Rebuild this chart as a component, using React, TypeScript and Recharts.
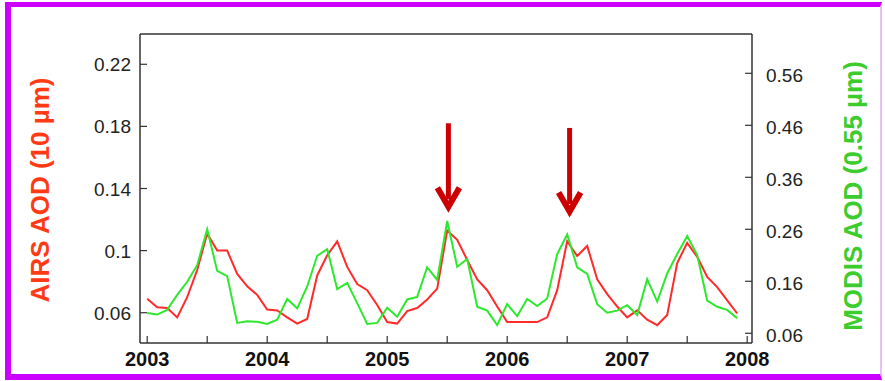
import React from 'react'
import { LineChart, Line, XAxis, YAxis, ReferenceLine, ReferenceDot } from 'recharts'

// monthly means, Jan 2003 .. Dec 2007
const airs = [
  0.069, 0.0635, 0.063, 0.057, 0.07, 0.0875, 0.111, 0.1, 0.1, 0.085, 0.077, 0.0715,
  0.062, 0.0615, 0.057, 0.053, 0.056, 0.084, 0.097, 0.106, 0.0895, 0.0785, 0.0745, 0.065,
  0.054, 0.053, 0.061, 0.063, 0.0685, 0.0755, 0.113, 0.107, 0.094, 0.0815, 0.0745, 0.064,
  0.054, 0.054, 0.054, 0.054, 0.057, 0.0745, 0.106, 0.0965, 0.103, 0.0815, 0.072, 0.064,
  0.057, 0.0615, 0.0555, 0.052, 0.0585, 0.092, 0.105, 0.096, 0.083, 0.0765, 0.068, 0.0595,
]
const modis = [
  0.099, 0.096, 0.105, 0.134, 0.159, 0.191, 0.26, 0.18, 0.17, 0.08, 0.083, 0.082,
  0.078, 0.086, 0.126, 0.108, 0.15, 0.209, 0.222, 0.145, 0.157, 0.118, 0.078, 0.08,
  0.109, 0.092, 0.125, 0.13, 0.187, 0.1625, 0.276, 0.188, 0.203, 0.111, 0.1035, 0.076,
  0.116, 0.093, 0.126, 0.1125, 0.127, 0.2125, 0.25, 0.187, 0.174, 0.116, 0.0995, 0.1035,
  0.114, 0.095, 0.164, 0.121, 0.175, 0.2125, 0.247, 0.2105, 0.123, 0.111, 0.105, 0.089,
]
const startYear = 2003

const xTicks = [2003, 2003.5, 2004, 2004.5, 2005, 2005.5, 2006, 2006.5, 2007, 2007.5, 2008]
const airsTicks = [0.06, 0.1, 0.14, 0.18, 0.22]
const modisTicks = [0.06, 0.16, 0.26, 0.36, 0.46, 0.56]

const arrowYears = [2005.51, 2006.52]
const arrowTop = [0.182, 0.179]
const arrowTip = [0.125, 0.122]

const xDomain = [2002.94, 2008.04]
const airsDomain = [0.0405, 0.2395]
const modisDomain = [0.0413, 0.6356]

const data = airs.map((v, i) => ({ t: startYear + i / 12, airs: v, modis: modis[i] }))

const AXIS = '#333'
const FONT = '"Liberation Sans", Arial, sans-serif'

function YearTick(props: any) {
  const { x, y, payload } = props
  const v = payload.value
  return (
    <g>
      <line x1={x} x2={x} y1={y} y2={y - 7} stroke={AXIS} strokeWidth={1.2} />
      {Number.isInteger(v) && (
        <text x={x} y={y + 23} textAnchor="middle" fontSize={20} fontWeight="bold" fill="#111" fontFamily={FONT}>
          {v}
        </text>
      )}
    </g>
  )
}

function LeftTick(props: any) {
  const { x, y, payload } = props
  return (
    <g>
      <line x1={x} x2={x + 7} y1={y} y2={y} stroke={AXIS} strokeWidth={1.2} />
      <text x={x - 9} y={y + 7} textAnchor="end" fontSize={19} fill="#222" fontFamily={FONT}>
        {String(payload.value)}
      </text>
    </g>
  )
}

function RightTick(props: any) {
  const { x, y, payload } = props
  return (
    <g>
      <line x1={x} x2={x - 7} y1={y} y2={y} stroke={AXIS} strokeWidth={1.2} />
      <text x={x + 14} y={y + 9} textAnchor="start" fontSize={19} fill="#222" fontFamily={FONT}>
        {String(payload.value)}
      </text>
    </g>
  )
}

function ArrowHead(props: any) {
  const { cx, cy } = props
  return (
    <path
      d={`M${cx - 11},${cy - 24} L${cx},${cy - 5} L${cx + 11},${cy - 24}`}
      stroke="#cc0000"
      strokeWidth={6}
      fill="none"
      strokeLinejoin="miter"
    />
  )
}

const labelStyle: React.CSSProperties = {
  position: 'absolute',
  transform: 'translate(-50%, -50%) rotate(-90deg)',
  whiteSpace: 'nowrap',
  fontFamily: FONT,
  fontWeight: 'bold',
  fontSize: 26,
}

export default function App() {
  return (
    <div style={{ position: 'fixed', left: 0, top: 0, width: 885, height: 381, background: '#fff', overflow: 'hidden' }}>
      <div
        style={{
          position: 'absolute',
          left: 5,
          top: 2,
          width: 877,
          height: 378,
          boxSizing: 'border-box',
          borderLeft: '6px solid #cc00ff',
          borderTop: '5px solid #cc00ff',
          borderBottom: '6px solid #cc00ff',
          borderRight: '2px solid #e8bff5',
        }}
      />
      <LineChart width={885} height={381} data={data} margin={{ top: 34, right: 73, bottom: 8, left: 80 }}>
        <XAxis
          dataKey="t"
          type="number"
          domain={xDomain}
          ticks={xTicks}
          interval={0}
          height={30}
          tickSize={0}
          tickMargin={0}
          tickLine={false}
          axisLine={{ stroke: AXIS, strokeWidth: 1.5 }}
          tick={(p: any) => <YearTick {...p} />}
          allowDataOverflow
        />
        <YAxis
          yAxisId="left"
          type="number"
          domain={airsDomain}
          ticks={airsTicks}
          interval={0}
          width={60}
          tickSize={0}
          tickMargin={0}
          tickLine={false}
          axisLine={{ stroke: AXIS, strokeWidth: 1.5 }}
          tick={(p: any) => <LeftTick {...p} />}
          allowDataOverflow
        />
        <YAxis
          yAxisId="right"
          orientation="right"
          type="number"
          domain={modisDomain}
          ticks={modisTicks}
          interval={0}
          width={60}
          tickSize={0}
          tickMargin={0}
          tickLine={false}
          axisLine={{ stroke: AXIS, strokeWidth: 1.5 }}
          tick={(p: any) => <RightTick {...p} />}
          allowDataOverflow
        />
        <ReferenceLine yAxisId="left" y={airsDomain[1]} stroke={AXIS} strokeWidth={1.5} ifOverflow="visible" />
        <Line yAxisId="left" type="linear" dataKey="airs" stroke="#ff2a2a" strokeWidth={2} dot={false} isAnimationActive={false} />
        <Line yAxisId="right" type="linear" dataKey="modis" stroke="#2ee82e" strokeWidth={2} dot={false} isAnimationActive={false} />
        {arrowYears.map((yr, i) => (
          <ReferenceLine
            key={'s' + i}
            yAxisId="left"
            segment={[
              { x: yr, y: arrowTop[i] },
              { x: yr, y: arrowTip[i] + 0.008 },
            ]}
            stroke="#cc0000"
            strokeWidth={5}
          />
        ))}
        {arrowYears.map((yr, i) => (
          <ReferenceDot key={'h' + i} yAxisId="left" x={yr} y={arrowTip[i]} shape={(p: any) => <ArrowHead {...p} />} />
        ))}
      </LineChart>
      <div style={{ ...labelStyle, left: 40, top: 190, color: '#ff3a14' }}>AIRS AOD (10 µm)</div>
      <div style={{ ...labelStyle, left: 853, top: 196, color: '#3ccc2e' }}>MODIS AOD (0.55 µm)</div>
    </div>
  )
}
